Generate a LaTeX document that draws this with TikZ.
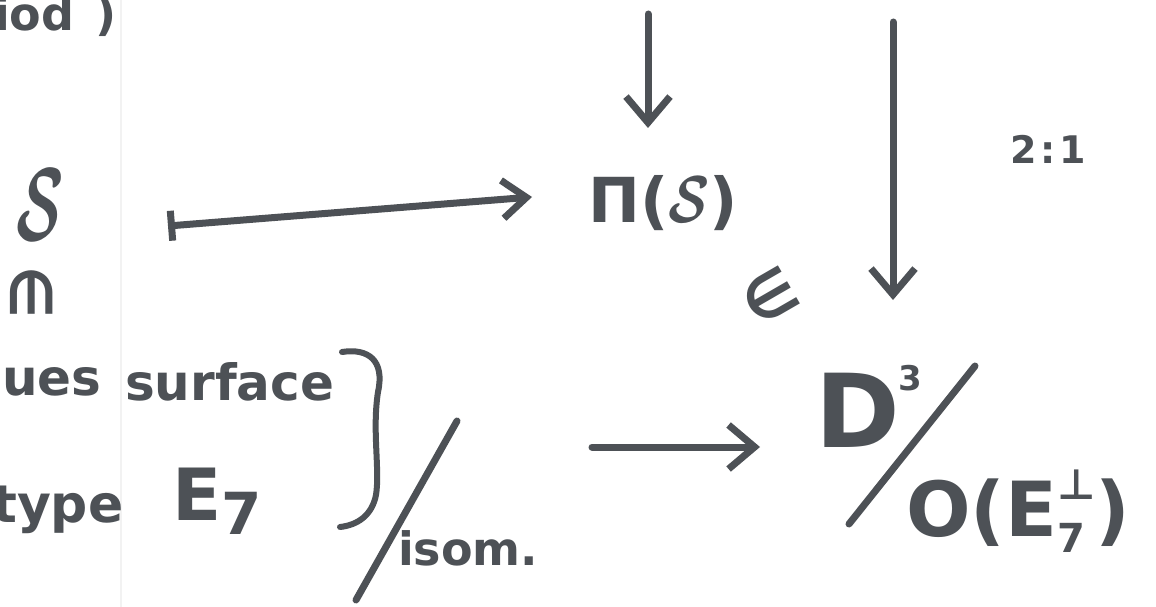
\documentclass[tikz,border=0pt]{standalone}
\usepackage{graphicx}
\usepackage{fontspec}
\setmainfont{DejaVu Sans}
\usetikzlibrary{arrows.meta}
\definecolor{ink}{HTML}{4D5156}
\newcommand{\fs}[1]{\fontsize{#1}{#1}\selectfont}
\newcommand{\scrS}[2]{\scalebox{#1}[#2]{\fs{20}\boldmath$\mathcal{S}$}}
\begin{document}
\begin{tikzpicture}[x=1pt,y=-1pt,
  lbl/.style={inner sep=0pt, text=ink, font=\bfseries},
  conn/.style={draw=ink, line width=7pt, line cap=round, line join=round},
  head/.style={-{Straight Barb[length=26pt,width=44pt,line width=7pt]}},
  mapshead/.style={{Bar[width=30pt,line width=7pt]}-{Straight Barb[length=24pt,width=38pt,line width=7pt]}}
]
\useasboundingbox (0,0) rectangle (1156,607);
\fill[white] (0,0) rectangle (1156,607);
\draw[black!5, line width=1.5pt] (121,0) -- (121,607);

% top-left fragment
\node[lbl, font=\bfseries\fs{46}, anchor=base west] (per) at (-6,31) {iod\hspace{0.45em})};

% left column
\node[lbl] (S) at (40,205) {\scrS{3}{5}};
\node[lbl, font=\bfseries\fs{58}, rotate=-90] (in1) at (32,292) {∈};

\node[lbl, font=\bfseries\fs{50}, anchor=base west] (ues) at (2,395) {ues};
\node[lbl, font=\bfseries\fs{50}, anchor=base west] (surf) at (125,400) {surface};
\node[lbl, font=\bfseries\fs{52}, anchor=base west] (type) at (-8,522) {type};
\node[lbl, font=\bfseries\fs{72}, anchor=base west] (E7) at (172,520) {E\raisebox{-0.2em}{\fs{58}7}};
\node[lbl, font=\bfseries\fs{46}, anchor=base west] (isom) at (398,565) {isom.};

% brace and quotient slash
\draw[conn, line width=6pt] (342,352) .. controls (368,348) and (385,360) .. (378,392)
  .. controls (372,430) and (380,470) .. (376,495)
  .. controls (372,515) and (358,525) .. (340,527);
\coordinate (sl1a) at (457,421);
\coordinate (sl1b) at (356,600);
\draw[conn] (sl1a) -- (sl1b);

% top middle
\node[lbl, font=\bfseries\fs{62}, anchor=base west] (pi) at (588,222) {Π(\scrS{2.6}{3.2})};
\coordinate (t1) at (648,14);
\coordinate (t1e) at (648,128);
\draw[conn, head] (t1) -- (t1e);

\coordinate (ms1) at (168,226);
\coordinate (ms2) at (532,197);
\draw[conn, mapshead] (ms1) -- (ms2);

\node[lbl, font=\bfseries\fs{60}, rotate=30] (in2) at (770,296) {∈};

% right column
\coordinate (t2) at (893,22);
\coordinate (t2e) at (893,300);
\draw[conn, head] (t2) -- (t2e);
\node[lbl, font=\bfseries\fs{38}, anchor=base west] (ratio) at (1010,163) {2\hspace{0.1em}:\hspace{0.1em}1};

\node[lbl, font=\bfseries\fs{102}, anchor=base west] (D) at (815,447) {D};
\node[lbl, font=\bfseries\fs{34}] (D3) at (910,378) {3};
\coordinate (sl2a) at (975,366);
\coordinate (sl2b) at (849,524);
\draw[conn] (sl2a) -- (sl2b);
\node[lbl, font=\bfseries\fs{76}, anchor=base west] (OE) at (906,536) {O(E\rlap{\raisebox{-0.22em}{\fs{40}7}}\raisebox{0.48em}{\fs{42}⊥})};

% bottom arrow
\coordinate (b1) at (592,447);
\coordinate (b2) at (760,447);
\draw[conn, head] (b1) -- (b2);
\end{tikzpicture}
\end{document}
